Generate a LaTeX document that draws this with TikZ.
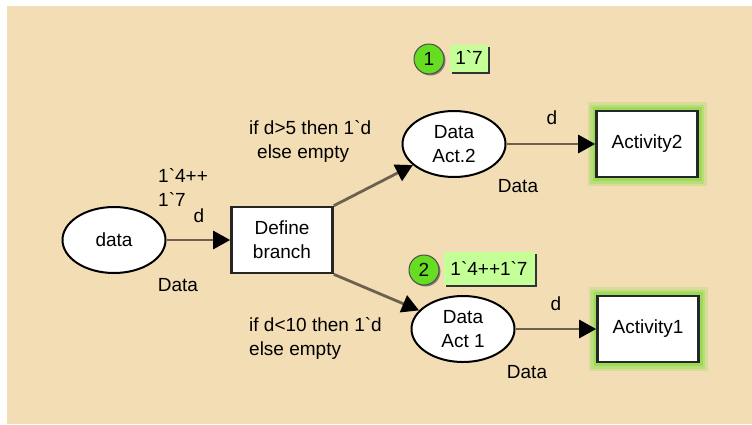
\documentclass[tikz,border=0pt]{standalone}
\usepackage{fontspec}
\setmainfont{Liberation Sans}
\usetikzlibrary{arrows.meta,shapes.geometric,shadows}

\definecolor{fondo}{HTML}{F3DDB4}
\definecolor{arcocol}{HTML}{6E604E}
\definecolor{brillo}{HTML}{9CDB5A}
\definecolor{fichacol}{HTML}{66DD22}
\definecolor{marcacol}{HTML}{C4FF98}

\newcommand{\bq}{\textasciigrave}

\tikzset{
  texto/.style={font=\fontsize{19}{24}\selectfont, inner sep=0pt, align=left},
  lugar/.style={ellipse, draw=black, line width=2pt, fill=white, minimum width=103pt,
    minimum height=66pt, inner sep=0pt, align=center, font=\fontsize{19}{24}\selectfont},
  transicion/.style={rectangle, draw=black!85, line width=2.6pt, fill=white, minimum width=101pt,
    minimum height=66pt, inner sep=0pt, align=center, font=\fontsize{19}{24}\selectfont},
  brilla/.style={preaction={draw=brillo!30!fondo, line width=18pt},
    preaction={draw=brillo!65!fondo, line width=13pt},
    preaction={draw=brillo, line width=8pt}},
  arco/.style={draw=arcocol, line width=2.8pt, -{Triangle[length=17pt,width=18pt,color=black]}},
  ficha/.style={circle, draw=black!70, line width=1pt, fill=fichacol, minimum size=30pt, inner sep=0pt,
    font=\fontsize{19}{24}\selectfont,
    drop shadow={shadow xshift=1.5pt, shadow yshift=-1.5pt, fill=black!60, opacity=0.8}},
  marca/.style={rectangle, fill=marcacol, inner sep=0pt, font=\fontsize{19}{24}\selectfont,
    drop shadow={shadow xshift=2pt, shadow yshift=-2pt, fill=black!80, opacity=1}}
}

\begin{document}
\begin{tikzpicture}[x=1pt, y=-1pt]
    % Fondo
    \useasboundingbox (0,0) rectangle (752,424);
    \fill[fondo] (7,6) rectangle (752,424);

    % Lugares y transiciones
    \node[lugar] (datos) at (114,240) {data};
    \node[transicion] (definir) at (282,240) {Define\\branch};
    \node[lugar] (act2) at (454,144) {Data\\Act.2};
    \node[lugar] (act1) at (463,329) {Data\\Act 1};
    \node[transicion, brilla] (actividad2) at (647,144) {Activity2};
    \node[transicion, brilla] (actividad1) at (648,329) {Activity1};

    % Arcos
    \draw[arco] (datos) -- (definir);
    \draw[arco] (definir.north east) -- (act2);
    \draw[arco] (definir.south east) -- (act1);
    \draw[arco] (act2) -- (actividad2);
    \draw[arco] (act1) -- (actividad1);

    % Inscripciones
    \node[texto, anchor=west] (inicial) at (158,187) {1\bq4++\\1\bq7};
    \node[texto] (var0) at (199,216) {d};
    \node[texto] (tipo0) at (178,285) {Data};
    \node[texto, anchor=west] (guarda2) at (249,141) {if d>5 then 1\bq d\\\hspace{8pt}else empty};
    \node[texto, anchor=west] (guarda1) at (249,338) {if d<10 then 1\bq d\\else empty};
    \node[texto] (var2) at (552,118) {d};
    \node[texto] (var1) at (556,304) {d};
    \node[texto] (tipo2) at (518,186) {Data};
    \node[texto] (tipo1) at (527,372) {Data};

    % Marcas
    \node[ficha] (n2) at (429,59) {1};
    \node[marca, minimum width=38pt, minimum height=27pt] (m2) at (469,58) {1\bq7};
    \node[ficha] (n1) at (424,270) {2};
    \node[marca, minimum width=91pt, minimum height=33pt] (m1) at (489,268) {1\bq4++1\bq7};
\end{tikzpicture}
\end{document}
